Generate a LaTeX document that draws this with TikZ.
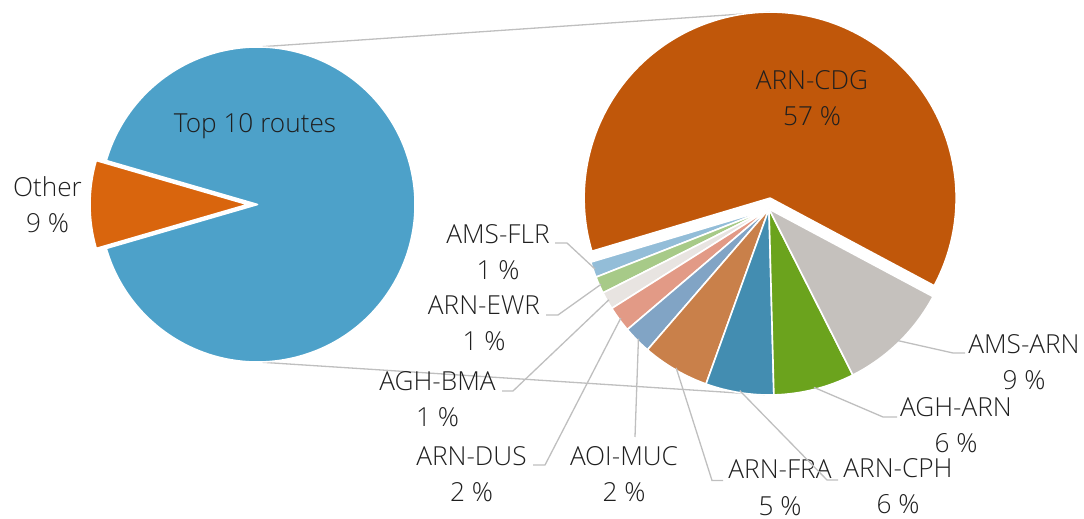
\documentclass[tikz,border=0pt]{standalone}
\usepackage{fontspec}
\setmainfont{Open Sans Light}
\definecolor{txt}{HTML}{1F1F1F}
\definecolor{lead}{HTML}{BFBFBF}
\definecolor{cTop}{HTML}{4DA1C9}
\definecolor{cOther}{HTML}{D9650D}
\definecolor{cCDG}{HTML}{C0570A}
\definecolor{cAMSARN}{HTML}{C5C1BD}
\definecolor{cAGHARN}{HTML}{6BA31D}
\definecolor{cCPH}{HTML}{438DB1}
\definecolor{cFRA}{HTML}{C9804A}
\definecolor{cMUC}{HTML}{81A4C5}
\definecolor{cDUS}{HTML}{E29A86}
\definecolor{cBMA}{HTML}{E8E4E1}
\definecolor{cEWR}{HTML}{A7CA88}
\definecolor{cFLR}{HTML}{93BDD8}
\newcommand\labelfont{\fontsize{26.2}{36.5}\selectfont}
% one pie wedge: centre, radius, start angle, end angle, fill colour
\newcommand\pieslice[5]{%
  \filldraw[slice, fill=#5] #1 -- +(#3:#2)
    arc[start angle=#3, end angle=#4, radius=#2] -- cycle;}
\begin{document}
\begin{tikzpicture}[x=1pt,y=1pt,
  slice/.style={draw=white, line width=1.6pt, line join=round},
  lbl/.style={align=center, font=\labelfont, text=txt, inner sep=0pt, anchor=base},
  leader/.style={draw=lead, line width=1.3pt},
  series/.style={draw=lead, line width=1.3pt}]
\useasboundingbox (0,0) rectangle (1084,519);

% pie centres
\coordinate (L)  at (257.5,314.5);
\coordinate (Lx) at (247.5,314.5);
\coordinate (R)  at (769,310);
\coordinate (Rx) at (770.1,320.9);

% series lines joining the two pies
\coordinate (Ltop) at ([shift={(90:157.5)}]L);
\coordinate (Lbot) at ([shift={(270:157.5)}]L);
\coordinate (Rtop) at ([shift={(90:186)}]Rx);
\coordinate (Rbot) at ([shift={(270:186)}]R);
\draw[series] (Ltop) -- (Rtop);
\draw[series] (Lbot) -- (Rbot);

% first pie
\pieslice{(L)}{157.5}{196.2}{523.8}{cTop}
\pieslice{(Lx)}{157.5}{163.8}{196.2}{cOther}

% second pie
\pieslice{(Rx)}{186}{-28.1}{196.6}{cCDG}
\pieslice{(R)}{186}{196.6}{201.5}{cFLR}
\pieslice{(R)}{186}{201.5}{206.8}{cEWR}
\pieslice{(R)}{186}{206.8}{212.3}{cBMA}
\pieslice{(R)}{186}{212.3}{220.4}{cDUS}
\pieslice{(R)}{186}{220.4}{229.2}{cMUC}
\pieslice{(R)}{186}{229.2}{250.2}{cFRA}
\pieslice{(R)}{186}{250.2}{271.5}{cCPH}
\pieslice{(R)}{186}{271.5}{296.8}{cAGHARN}
\pieslice{(R)}{186}{296.8}{331.9}{cAMSARN}

% labels (anchored on the baseline of their last line)
\node[lbl] (top)   at (255,386)   {Top 10 routes};
\node[lbl] (other) at (47.5,286)  {Other\\9 \%};
\node[lbl] (cdg)   at (812,393)   {ARN-CDG\\57 \%};
\node[lbl] (flr)   at (498,239)   {AMS-FLR\\1 \%};
\node[lbl] (ewr)   at (484,168)   {ARN-EWR\\1 \%};
\node[lbl] (bma)   at (437.5,92)  {AGH-BMA\\1 \%};
\node[lbl] (dus)   at (471.5,17)  {ARN-DUS\\2 \%};
\node[lbl] (muc)   at (624,17)    {AOI-MUC\\2 \%};
\node[lbl] (fra)   at (780,3.5)   {ARN-FRA\\5 \%};
\node[lbl] (cph)   at (898,5)     {ARN-CPH\\6 \%};
\node[lbl] (agharn) at (956,66)   {AGH-ARN\\6 \%};
\node[lbl] (amsarn) at (1024,129) {AMS-ARN\\9 \%};

% leader anchors on the wedges
\coordinate (pFLR) at ([shift={(199.05:184)}]R);
\coordinate (pEWR) at ([shift={(204.15:184)}]R);
\coordinate (pBMA) at ([shift={(209.55:184)}]R);
\coordinate (pDUS) at ([shift={(216.35:184)}]R);
\coordinate (pMUC) at ([shift={(224.8:184)}]R);
\coordinate (pFRA) at ([shift={(239.7:184)}]R);
\coordinate (pCPH) at ([shift={(260.85:184)}]R);
\coordinate (pAGHARN) at ([shift={(284.15:184)}]R);
\coordinate (pAMSARN) at ([shift={(314.35:184)}]R);

% leader starts beside the labels
\coordinate (sFLR) at (555,276);
\coordinate (sEWR) at (546,204);
\coordinate (sBMA) at (502,128);
\coordinate (sDUS) at (533,54);
\coordinate (sMUC) at (635,82);
\coordinate (sFRA) at (723,38.5);
\coordinate (sCPH) at (838,39);
\coordinate (sAGHARN) at (897,102);
\coordinate (sAMSARN) at (965,166);

\draw[leader] (sFLR) -- ++(12,0) -- (pFLR);
\draw[leader] (sEWR) -- ++(12,0) -- (pEWR);
\draw[leader] (sBMA) -- ++(11,0) -- (pBMA);
\draw[leader] (sDUS) -- ++(12,0) -- (pDUS);
\draw[leader] (sMUC) -- (pMUC);
\draw[leader] (sFRA) -- ++(-11,0) -- (pFRA);
\draw[leader] (sCPH) -- ++(-11,0) -- (pCPH);
\draw[leader] (sAGHARN) -- ++(-14,0) -- (pAGHARN);
\draw[leader] (sAMSARN) -- ++(-12,0) -- (pAMSARN);
\end{tikzpicture}
\end{document}
